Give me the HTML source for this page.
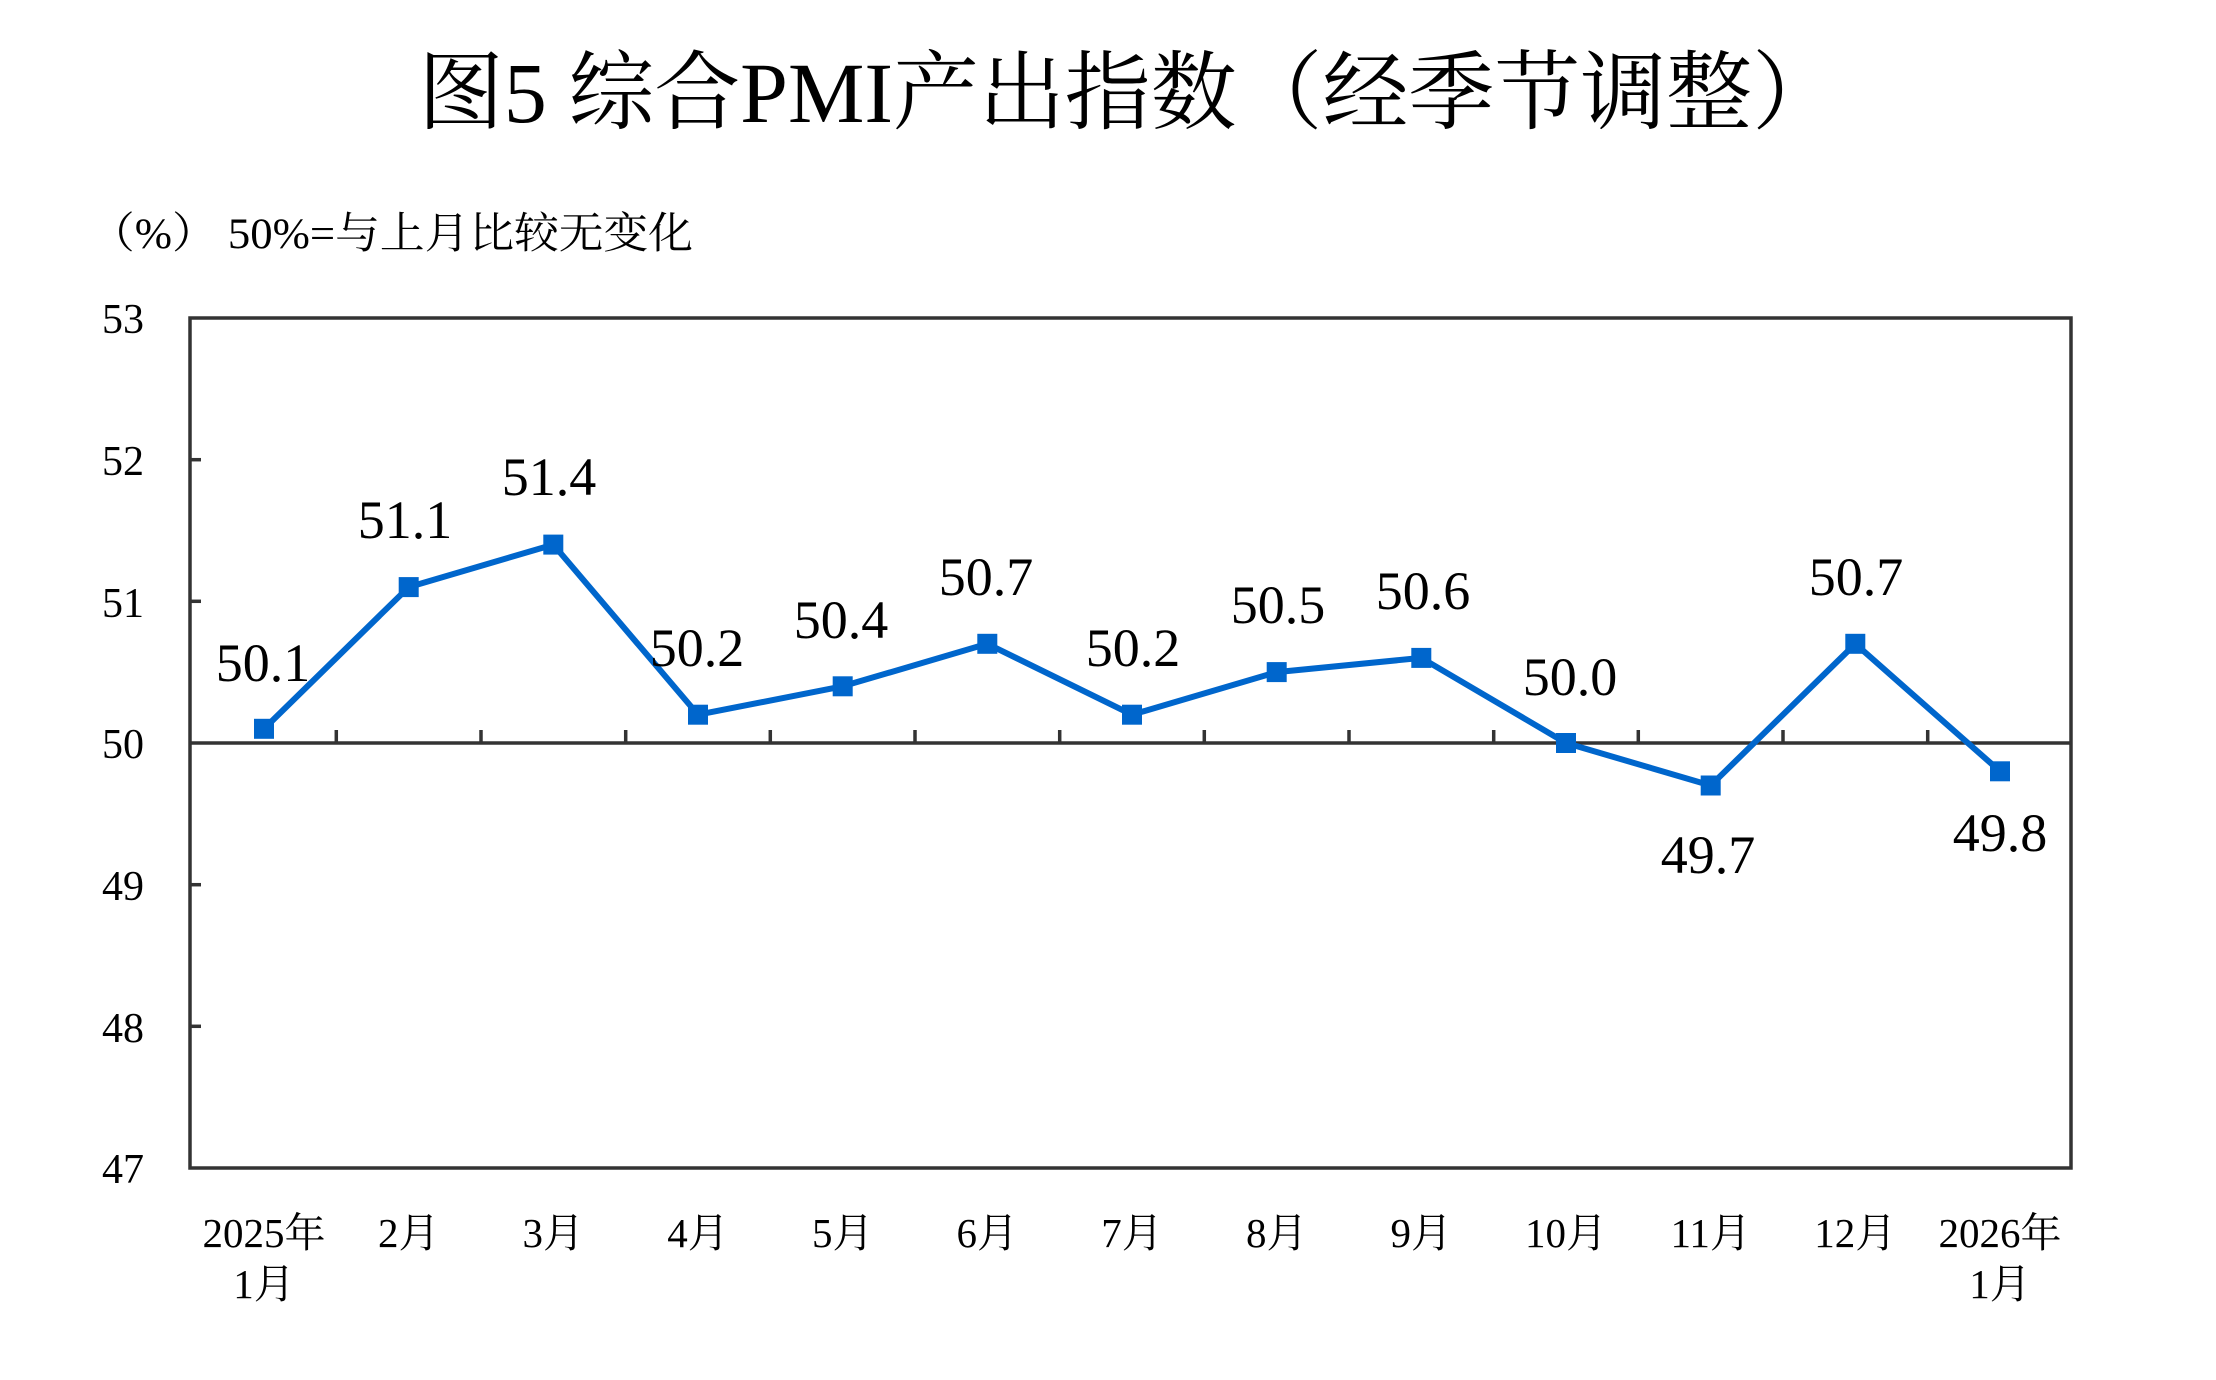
<!DOCTYPE html>
<html><head><meta charset="utf-8"><style>
html,body{margin:0;padding:0;background:#fff;width:2216px;height:1380px;overflow:hidden}
</style></head><body>
<svg width="2216" height="1380" xmlns="http://www.w3.org/2000/svg" font-family="'Liberation Serif','Noto Serif CJK SC',serif">
<text x="1128" y="122" font-size="86" fill="#000" text-anchor="middle" textLength="1420" lengthAdjust="spacingAndGlyphs">图5 综合PMI产出指数（经季节调整）</text>
<text x="90" y="248" font-size="43" fill="#000" textLength="603" lengthAdjust="spacingAndGlyphs">（%） 50%=与上月比较无变化</text>
<g stroke="#333" stroke-width="3.5" fill="none">
<rect x="190" y="318" width="1881" height="850"/>
<line x1="190" y1="743" x2="2071" y2="743"/>
<line x1="190" y1="459.7" x2="201" y2="459.7"/>
<line x1="190" y1="601.3" x2="201" y2="601.3"/>
<line x1="190" y1="884.7" x2="201" y2="884.7"/>
<line x1="190" y1="1026.3" x2="201" y2="1026.3"/>
<path d="M336.3 743v-13M481 743v-13M625.7 743v-13M770.3 743v-13M915 743v-13M1059.7 743v-13M1204.3 743v-13M1349 743v-13M1493.7 743v-13M1638.3 743v-13M1783 743v-13M1927.7 743v-13"/>
</g>
<g font-size="42" text-anchor="middle" fill="#000">
<text x="123" y="333">53</text><text x="123" y="475">52</text><text x="123" y="617">51</text>
<text x="123" y="758">50</text><text x="123" y="900">49</text><text x="123" y="1042">48</text><text x="123" y="1183">47</text>
</g>
<polyline fill="none" stroke="#0066CC" stroke-width="6" stroke-linejoin="round" points="264,728.8 408.7,587.1 553.3,544.6 698,714.7 842.7,686.3 987.3,643.8 1132,714.7 1276.7,672.1 1421.3,657.9 1566,743 1710.7,785.5 1855.3,643.8 2000,771.3"/>
<g fill="#0066CC">
<rect x="254" y="718.8" width="20" height="20"/><rect x="398.7" y="577.1" width="20" height="20"/><rect x="543.3" y="534.6" width="20" height="20"/><rect x="688" y="704.7" width="20" height="20"/><rect x="832.7" y="676.3" width="20" height="20"/><rect x="977.3" y="633.8" width="20" height="20"/><rect x="1122" y="704.7" width="20" height="20"/><rect x="1266.7" y="662.1" width="20" height="20"/><rect x="1411.3" y="647.9" width="20" height="20"/><rect x="1556" y="733" width="20" height="20"/><rect x="1700.7" y="775.5" width="20" height="20"/><rect x="1845.3" y="633.8" width="20" height="20"/><rect x="1990" y="761.3" width="20" height="20"/>
</g>
<g font-size="54" text-anchor="middle" fill="#000">
<text x="263" y="681">50.1</text><text x="405" y="538">51.1</text><text x="549" y="495">51.4</text>
<text x="697" y="666">50.2</text><text x="841" y="638">50.4</text><text x="986" y="595">50.7</text>
<text x="1133" y="666">50.2</text><text x="1278" y="623">50.5</text><text x="1423" y="609">50.6</text>
<text x="1570" y="695">50.0</text><text x="1708" y="873">49.7</text><text x="1856" y="595">50.7</text>
<text x="2000" y="851">49.8</text>
</g>
<g font-size="41" text-anchor="middle" fill="#000">
<text x="264" y="1247">2025年</text><text x="264" y="1298">1月</text>
<text x="408.7" y="1247">2月</text><text x="553.3" y="1247">3月</text><text x="698" y="1247">4月</text>
<text x="842.7" y="1247">5月</text><text x="987.3" y="1247">6月</text><text x="1132" y="1247">7月</text>
<text x="1276.7" y="1247">8月</text><text x="1421.3" y="1247">9月</text><text x="1566" y="1247">10月</text>
<text x="1710.7" y="1247">11月</text><text x="1855.3" y="1247">12月</text>
<text x="2000" y="1247">2026年</text><text x="2000" y="1298">1月</text>
</g>
</svg>
</body></html>
